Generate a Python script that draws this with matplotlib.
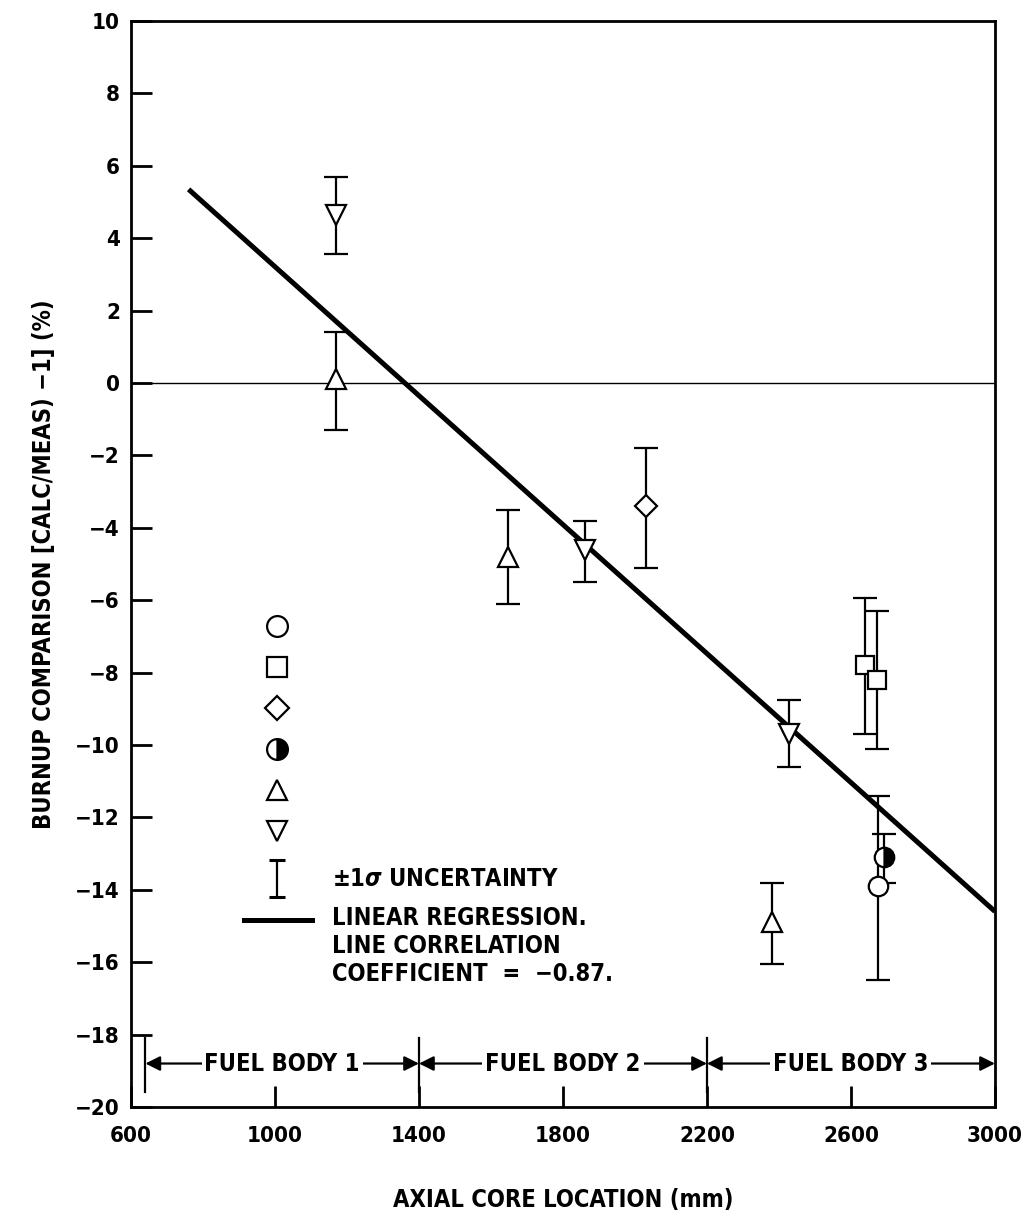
import matplotlib
matplotlib.use("Agg")
import matplotlib.pyplot as plt
import numpy as np

plt.rcParams['font.family'] = ['DejaVu Sans']
plt.rcParams['font.stretch'] = 'condensed'
plt.rcParams['font.weight'] = 'bold'
plt.rcParams['axes.labelweight'] = 'bold'
plt.rcParams['mathtext.fontset'] = 'dejavusans'

# Burnup comparison points: axial location (mm), deviation (%), -/+ 1 sigma
tri_up_x = [1169, 1647, 2381]
tri_up_y = [0.1, -4.8, -14.9]
tri_up_lo = [1.4, 1.3, 1.15]
tri_up_hi = [1.3, 1.3, 1.1]

tri_dn_x = [1169, 1861, 2428]
tri_dn_y = [4.65, -4.6, -9.7]
tri_dn_lo = [1.1, 0.9, 0.9]
tri_dn_hi = [1.05, 0.8, 0.95]

diamond_x = [2031]
diamond_y = [-3.4]
diamond_lo = [1.7]
diamond_hi = [1.6]

square_x = [2639, 2672]
square_y = [-7.8, -8.2]
square_lo = [1.9, 1.9]
square_hi = [1.85, 1.9]

half_x = [2692]
half_y = [-13.1]
half_lo = [0.7]
half_hi = [0.65]

circle_x = [2675]
circle_y = [-13.9]
circle_lo = [2.6]
circle_hi = [2.5]

# regression line end points
reg_x = [760, 3000]
reg_y = [5.35, -14.6]

# fuel body extents along the core
body_edges = [640, 1400, 2200, 3000]
body_labels = ["FUEL BODY 1", "FUEL BODY 2", "FUEL BODY 3"]
body_y = -18.8

fig = plt.figure(figsize=(10.21, 12.21), dpi=100)
ax = fig.add_axes([0.1283, 0.0934, 0.8462, 0.8894])

mk = dict(markersize=14, markeredgecolor='black', markeredgewidth=1.6,
          ecolor='black', elinewidth=1.6, capsize=8.5, capthick=2.2,
          linestyle='none', zorder=4)

ax.errorbar(tri_up_x, tri_up_y, yerr=[tri_up_lo, tri_up_hi], marker='^',
            markerfacecolor='white', **mk)
ax.errorbar(tri_dn_x, tri_dn_y, yerr=[tri_dn_lo, tri_dn_hi], marker='v',
            markerfacecolor='white', **mk)
ax.errorbar(diamond_x, diamond_y, yerr=[diamond_lo, diamond_hi], marker='D',
            markerfacecolor='white', **dict(mk, markersize=11))
ax.errorbar(square_x, square_y, yerr=[square_lo, square_hi], marker='s',
            markerfacecolor='white', **dict(mk, markersize=13))
ax.errorbar(circle_x, circle_y, yerr=[circle_lo, circle_hi], marker='o',
            markerfacecolor='white', **mk)
ax.errorbar(half_x, half_y, yerr=[half_lo, half_hi], marker='o',
            fillstyle='right', markerfacecolor='black',
            markerfacecoloralt='white', **mk)

ax.plot(reg_x, reg_y, color='black', linewidth=3.6, solid_capstyle='butt', zorder=3)
ax.axhline(0, color='black', linewidth=1.0, zorder=2)

# fuel body spans with arrows
for i, lab in enumerate(body_labels):
    left, right = body_edges[i], body_edges[i + 1]
    mid = (left + right) / 2
    for end in (left, right):
        ax.annotate('', xy=(end, body_y), xytext=(mid, body_y),
                    arrowprops=dict(arrowstyle='-|>', color='black', lw=1.6,
                                    mutation_scale=22, shrinkA=0, shrinkB=0))
    ax.text(mid, body_y, lab, ha='center', va='center', fontsize=17,
            bbox=dict(facecolor='white', edgecolor='none', pad=2), zorder=5)
for edge in body_edges[:-1]:
    ax.plot([edge, edge], [-18.1, -19.6], color='black', linewidth=1.6)

# legend, drawn by hand
lx = 0.169
leg_rows = [('o', 'white', 15), ('s', 'white', 14), ('D', 'white', 12),
            ('half', 'black', 15), ('^', 'white', 15), ('v', 'white', 15)]
for j, (m, fc, ms) in enumerate(leg_rows):
    ly = 0.443 - j * 0.0378
    if m == 'half':
        ax.plot(lx, ly, marker='o', markersize=ms, fillstyle='right',
                markerfacecolor='black', markerfacecoloralt='white',
                markeredgecolor='black', markeredgewidth=1.6,
                transform=ax.transAxes, clip_on=False)
    else:
        ax.plot(lx, ly, marker=m, markersize=ms, markerfacecolor=fc,
                markeredgecolor='black', markeredgewidth=1.6,
                transform=ax.transAxes, clip_on=False)
ey = 0.210
ax.errorbar(lx, ey, yerr=0.017, color='black', elinewidth=1.6, capsize=6,
            capthick=2.2, transform=ax.transAxes)
ax.text(0.233, ey, "±1$\\sigma$ UNCERTAINTY", transform=ax.transAxes,
        ha='left', va='center', fontsize=17)
ax.plot([0.131, 0.210], [0.172, 0.172], color='black', linewidth=3.6,
        transform=ax.transAxes)
ax.text(0.233, 0.185,
        "LINEAR REGRESSION.\nLINE CORRELATION\nCOEFFICIENT  =  \u22120.87.",
        transform=ax.transAxes, ha='left', va='top', fontsize=17,
        linespacing=1.2)

ax.set_xlim(600, 3000)
ax.set_ylim(-20, 10)
ax.set_xticks(np.arange(600, 3001, 400))
ax.set_yticks(np.arange(-20, 11, 2))
ax.set_yticklabels([f"{v}".replace('-', '\u2212') for v in range(-20, 11, 2)])
ax.tick_params(direction='in', length=15, width=2, labelsize=16, pad=8)
ax.tick_params(axis='x', pad=14)
for s in ax.spines.values():
    s.set_linewidth(2)

ax.set_xlabel("AXIAL CORE LOCATION (mm)", fontsize=17, labelpad=30)
ax.set_ylabel("BURNUP COMPARISON [CALC/MEAS) \u22121] (%)", fontsize=17,
              labelpad=14)

fig.savefig("out.png", dpi=100, facecolor='white')
